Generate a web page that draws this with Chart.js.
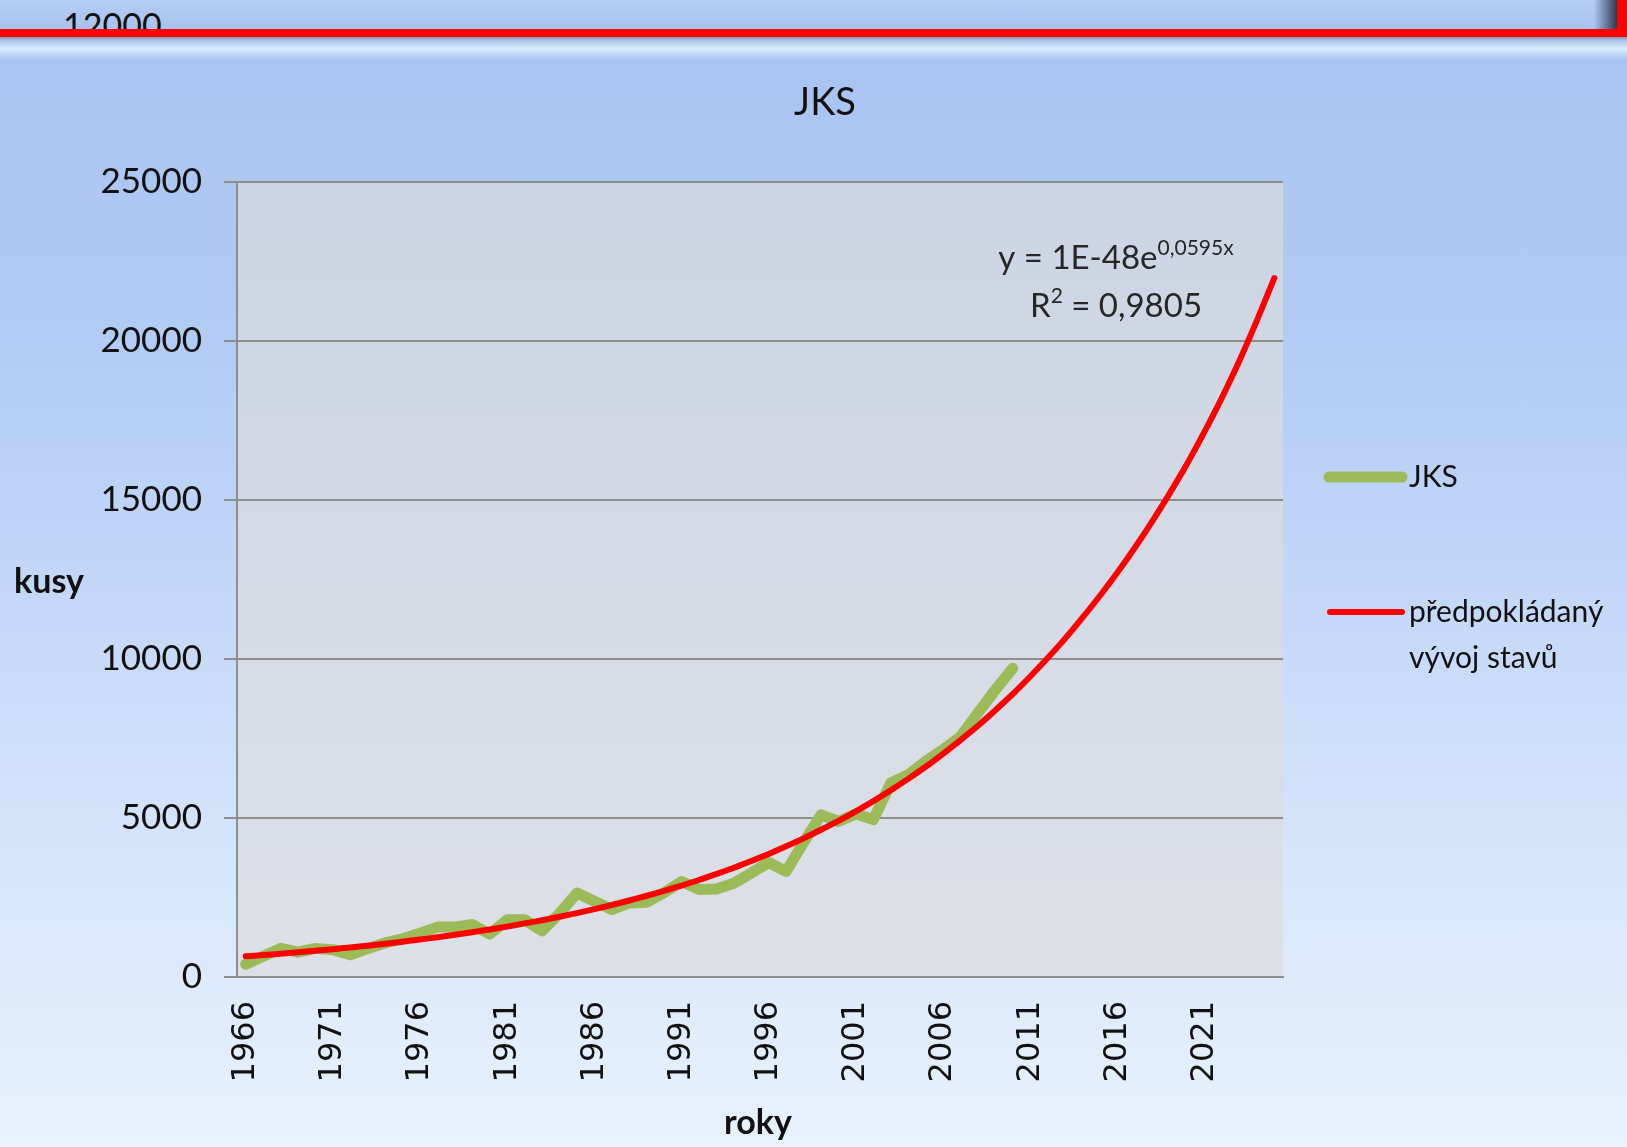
<!DOCTYPE html>
<html>
<head>
<meta charset="utf-8">
<script src="https://cdn.jsdelivr.net/npm/chart.js@4.4.1/dist/chart.umd.min.js"></script>
<style>
    html, body {
        margin: 0;
        padding: 0;
        width: 1627px;
        height: 1147px;
        overflow: hidden;
    }
    body {
        background: linear-gradient(to bottom, #a7c2f0 0%, #b3ccf5 30%, #c6d9f8 55%, #d8e7fb 78%, #e8f2fe 100%);
        position: relative;
    }
    #topStrip {
        position: absolute;
        left: 0; top: 0;
        width: 1627px; height: 60px;
        z-index: 2;
    }
    #topBand {
        position: absolute;
        left: 0; top: 0;
        width: 1627px; height: 29px;
        background: linear-gradient(to bottom, #b4cdf4, #a8c3f0);
        overflow: hidden;
    }
    #topBand span {
        position: absolute;
        left: 63px; top: 8px;
        font-family: Lato, sans-serif;
        font-size: 34px;
        line-height: 34px;
        color: #111;
    }
    #topShadow {
        position: absolute;
        left: 1594px; top: 0;
        width: 23px; height: 29px;
        background: linear-gradient(to right, rgba(40,50,70,0), rgba(40,50,70,0.95));
    }
    #redH {
        position: absolute;
        left: 0; top: 29px;
        width: 1627px; height: 8px;
        background: #ff0000;
    }
    #redV {
        position: absolute;
        left: 1617px; top: 0;
        width: 10px; height: 37px;
        background: #ff0000;
    }
    #gloss {
        position: absolute;
        left: 0; top: 37px;
        width: 1627px; height: 23px;
        background: linear-gradient(to bottom, #8896ad 0px, #a9c2ea 3px, #d8f0ff 12px, #c2daf8 17px, #a8c3f1 23px);
    }
    #wrap {
        position: absolute;
        left: 0; top: 0;
        width: 1627px; height: 1147px;
    }
</style>
</head>
<body>
<div id="topStrip">
    <div id="topBand"><span>12000</span></div>
    <div id="topShadow"></div>
    <div id="redH"></div>
    <div id="redV"></div>
    <div id="gloss"></div>
</div>
<div id="wrap"><canvas id="jksChart"></canvas></div>
<script>
const years = ['1966', '1967', '1968', '1969', '1970', '1971', '1972', '1973', '1974', '1975',
    '1976', '1977', '1978', '1979', '1980', '1981', '1982', '1983', '1984', '1985',
    '1986', '1987', '1988', '1989', '1990', '1991', '1992', '1993', '1994', '1995',
    '1996', '1997', '1998', '1999', '2000', '2001', '2002', '2003', '2004', '2005',
    '2006', '2007', '2008', '2009', '2010', '2011', '2012', '2013', '2014', '2015',
    '2016', '2017', '2018', '2019', '2020', '2021', '2022', '2023', '2024', '2025'];

const yearLabels = ['1966', '1971', '1976', '1981', '1986', '1991', '1996', '2001', '2006', '2011', '2016', '2021'];

const yTicks = [0, 5000, 10000, 15000, 20000, 25000];

// JKS, 1966 - 2010
const jks = [400, 650, 900, 780, 900, 860, 700, 900, 1070, 1200,
    1380, 1570, 1570, 1650, 1350, 1800, 1800, 1450, 2000, 2640,
    2380, 2120, 2330, 2350, 2650, 3000, 2750, 2770, 2950, 3270,
    3600, 3320, 4230, 5100, 4890, 5130, 4950, 6100, 6360, 6780,
    7150, 7560, 8300, 9030, 9710];

// trend line, 1966 - 2025
const trend = [650, 690, 730, 780, 825, 875, 930, 985, 1045, 1110,
    1180, 1250, 1330, 1410, 1495, 1585, 1685, 1785, 1895, 2010,
    2135, 2265, 2405, 2555, 2710, 2875, 3050, 3240, 3435, 3650,
    3870, 4110, 4360, 4630, 4910, 5210, 5530, 5870, 6230, 6610,
    7020, 7450, 7900, 8390, 8900, 9450, 10030, 10640, 11300, 11990,
    12720, 13500, 14330, 15210, 16140, 17150, 18220, 19380, 20640, 21980];

const legendLines = [['JKS'], ['předpokládaný', 'vývoj stavů']];

const green = '#9bbb59';
const red = '#ff0000';

const decor = {
    id: 'decor',
    beforeDraw(chart) {
        const { ctx, chartArea: a } = chart;
        const g = ctx.createLinearGradient(0, a.top, 0, a.bottom);
        g.addColorStop(0, 'rgb(204,213,228)');
        g.addColorStop(1, 'rgb(221,224,231)');
        ctx.save();
        ctx.fillStyle = g;
        ctx.fillRect(a.left, a.top, a.right - a.left, a.bottom - a.top);
        ctx.restore();
    },
    afterDraw(chart) {
        const ctx = chart.ctx;
        ctx.save();
        ctx.fillStyle = '#111';

        // title
        ctx.font = '38px Lato';
        ctx.textAlign = 'center';
        ctx.textBaseline = 'middle';
        ctx.fillText('JKS', 825, 103);

        // axis titles
        ctx.font = 'bold 34px Lato';
        ctx.fillText('kusy', 49, 582);
        ctx.fillText('roky', 758, 1123);

        // trendline equation
        ctx.fillStyle = '#262626';
        ctx.textAlign = 'left';
        ctx.textBaseline = 'alphabetic';
        const cx = 1116;
        const big = '33px Lato';
        const small = '21px Lato';
        ctx.font = big;
        const p1 = 'y = 1E-48e';
        const w1 = ctx.measureText(p1).width;
        ctx.font = small;
        const s1 = '0,0595x';
        const ws1 = ctx.measureText(s1).width;
        let x = cx - (w1 + ws1) / 2;
        ctx.font = big;
        ctx.fillText(p1, x, 269);
        ctx.font = small;
        ctx.fillText(s1, x + w1, 255);

        ctx.font = big;
        const wR = ctx.measureText('R').width;
        const p2 = ' = 0,9805';
        const w2 = ctx.measureText(p2).width;
        ctx.font = small;
        const ws2 = ctx.measureText('2').width;
        x = cx - (wR + ws2 + w2) / 2;
        ctx.font = big;
        ctx.fillText('R', x, 317);
        ctx.font = small;
        ctx.fillText('2', x + wR, 303);
        ctx.font = big;
        ctx.fillText(p2, x + wR + ws2, 317);

        // legend
        const rows = [477, 612];
        ctx.lineCap = 'round';
        ctx.textBaseline = 'middle';
        ctx.fillStyle = '#111';
        chart.data.datasets.forEach(function (ds) {
            const k = ds.legendIndex;
            const y = rows[k];
            ctx.strokeStyle = ds.borderColor;
            ctx.lineWidth = k === 0 ? 11 : 6;
            ctx.beginPath();
            ctx.moveTo(k === 0 ? 1329 : 1330, y);
            ctx.lineTo(1402, y);
            ctx.stroke();
            ctx.font = '30px Lato';
            legendLines[k].forEach(function (line, j) {
                ctx.fillText(line, 1409, y + j * 46);
            });
        });
        ctx.restore();
    }
};

const chart = new Chart(document.getElementById('jksChart').getContext('2d'), {
    type: 'line',
    data: {
        labels: years,
        datasets: [{
            label: 'předpokládaný vývoj stavů',
            data: trend,
            borderColor: red,
            borderWidth: 6,
            pointRadius: 0,
            tension: 0.3,
            borderCapStyle: 'round',
            order: 0,
            legendIndex: 1
        }, {
            label: 'JKS',
            data: jks,
            borderColor: green,
            borderWidth: 11,
            pointRadius: 0,
            borderJoinStyle: 'round',
            borderCapStyle: 'round',
            order: 1,
            legendIndex: 0
        }]
    },
    options: {
        responsive: true,
        maintainAspectRatio: false,
        animation: false,
        layout: {
            padding: { top: 182, right: 344, bottom: 0, left: 0 }
        },
        scales: {
            x: {
                offset: true,
                grid: {
                    display: false,
                    drawTicks: false
                },
                border: {
                    display: true,
                    color: '#8e8e8e',
                    width: 2
                },
                ticks: {
                    autoSkip: false,
                    minRotation: 90,
                    maxRotation: 90,
                    padding: 24,
                    color: '#111',
                    font: { family: "'DejaVu Sans'", size: 32 },
                    callback: function (value, index) {
                        const lbl = years[index];
                        return yearLabels.includes(lbl) ? lbl : '';
                    }
                },
                afterFit: function (scale) {
                    scale.height = 170;
                }
            },
            y: {
                min: 0,
                max: 25000,
                afterBuildTicks: function (scale) {
                    scale.ticks = yTicks.map(function (v) { return { value: v }; });
                },
                grid: {
                    color: '#8e8e8e',
                    lineWidth: 2,
                    drawTicks: true,
                    tickLength: 13
                },
                border: {
                    color: '#8e8e8e',
                    width: 2
                },
                ticks: {
                    padding: 22,
                    color: '#111',
                    font: { family: 'Lato', size: 35 },
                    callback: function (value) {
                        return String(value);
                    }
                },
                afterFit: function (scale) {
                    scale.width = 237;
                }
            }
        },
        plugins: {
            legend: { display: false },
            title: { display: false },
            tooltip: { enabled: false }
        }
    },
    plugins: [decor]
});
</script>
</body>
</html>
